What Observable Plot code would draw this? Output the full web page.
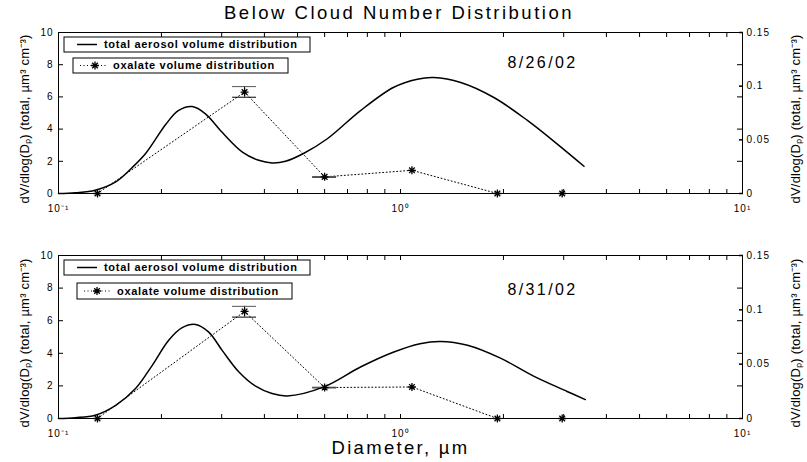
<!DOCTYPE html>
<html><head><meta charset="utf-8">
<script src="https://cdn.jsdelivr.net/npm/d3@7"></script>
<script src="https://cdn.jsdelivr.net/npm/@observablehq/plot@0.6"></script>
<style>
body{margin:0;background:#fff;font-family:"Liberation Sans",Arial,Helvetica,sans-serif;}
#wrap{position:relative;width:807px;height:462px;padding-top:24px;box-sizing:border-box;overflow:hidden;}
#title{position:absolute;top:2px;left:0;width:798px;text-align:center;font-size:18.5px;letter-spacing:2.5px;color:#000;}
svg{display:block}
g[aria-label$="tick label"] text{letter-spacing:1px;}
</style></head><body>
<div id="wrap"><div id="title">Below Cloud Number Distribution</div></div>
<script>
// ---- data ----
const TITLE = "Below Cloud Number Distribution";
const DATES = ["8/26/02", "8/31/02"];
const LEGEND_LABELS = ["total aerosol volume distribution", "oxalate volume distribution"];
const Y_LABEL = "dV/dlog(Dₚ) (total, µm³ cm⁻³)";
const X_LABEL = "Diameter, µm";

const TOTAL_D_1 = [0.1, 0.112, 0.128, 0.147, 0.164, 0.180, 0.206, 0.224, 0.246, 0.269, 0.301, 0.345, 0.385, 0.421, 0.461, 0.522, 0.611, 0.764, 0.956, 1.12, 1.25, 1.50, 1.87, 2.35, 2.94, 3.44];
const TOTAL_V_1 = [0.0, 0.05, 0.2, 0.72, 1.6, 2.5, 4.3, 5.15, 5.4, 4.95, 3.8, 2.57, 2.06, 1.9, 2.0, 2.5, 3.4, 5.15, 6.6, 7.1, 7.2, 6.9, 5.98, 4.54, 2.9, 1.69];
const TOTAL_D_2 = [0.1, 0.112, 0.128, 0.147, 0.168, 0.188, 0.210, 0.230, 0.2516, 0.275, 0.301, 0.337, 0.377, 0.421, 0.466, 0.597, 0.764, 0.956, 1.14, 1.31, 1.57, 1.96, 2.45, 3.07, 3.47];
const TOTAL_V_2 = [0.0, 0.05, 0.2, 0.81, 1.84, 3.26, 4.8, 5.57, 5.77, 5.3, 4.18, 2.85, 1.98, 1.53, 1.38, 1.94, 3.16, 4.08, 4.59, 4.73, 4.49, 3.7, 2.6, 1.66, 1.16];

const OX_D = [0.13, 0.35, 0.6, 1.08, 1.92, 2.97];
const OX_V_1 = [0, 0.0945, 0.0155, 0.0216, 0, 0];
const OX_LO_1 = [null, 0.0897, 0.0152, null, null, null];
const OX_HI_1 = [null, 0.0996, 0.0158, null, null, null];
const OX_V_2 = [0, 0.0985, 0.0285, 0.029, 0, 0];
const OX_LO_2 = [null, 0.0933, 0.0282, null, null, null];
const OX_HI_2 = [null, 0.1032, 0.0288, null, null, null];

const X_TICKS = [0.1, 1, 10];
const X_MINOR = [0.2, 0.3, 0.4, 0.5, 0.6, 0.7, 0.8, 0.9, 2, 3, 4, 5, 6, 7, 8, 9];
const Y_LEFT_TICKS = [0, 2, 4, 6, 8, 10];
const Y_RIGHT_TICKS = [0, 0.05, 0.1, 0.15];

// ---- helpers ----
const K = 10 / 0.15;      // right-axis units -> left-axis units
const CAP = 1.084;        // error-bar cap half width (multiplicative, log axis)
const SUP = {"-1": "10⁻¹", "0": "10⁰", "1": "10¹"};
const supFmt = d => SUP[String(Math.round(Math.log10(d)))];
const rFmt = v => String(+(v / K).toFixed(2));

const STAR = {
  draw(ctx, size) {
    const r = Math.sqrt(size / Math.PI);
    for (let i = 0; i < 4; i++) {
      const a = i * Math.PI / 4;
      ctx.moveTo(r * Math.cos(a), r * Math.sin(a));
      ctx.lineTo(-r * Math.cos(a), -r * Math.sin(a));
    }
  }
};

const FONT = '"Liberation Sans", Arial, Helvetica, sans-serif';

function panel(cfg) {
  const total = cfg.td.map((D, i) => ({D, v: cfg.tv[i]}));
  const ox = OX_D.map((D, i) => ({D, v: cfg.ov[i], lo: cfg.lo[i], hi: cfg.hi[i]}));
  const errs = ox.filter(d => d.lo != null);
  const marks = [
    Plot.frame({stroke: "black", strokeWidth: 1}),
    Plot.axisX(X_TICKS, {anchor: "bottom", tickSize: 0, tickPadding: 11, tickFormat: supFmt, fontSize: 10, label: null}),
    Plot.axisX(X_TICKS.concat(X_MINOR), {anchor: "bottom", tickSize: -4, fill: "none", label: null}),
    Plot.axisX(X_TICKS.concat(X_MINOR), {anchor: "top", tickSize: -4, fill: "none", label: null}),
    Plot.axisY(Y_LEFT_TICKS, {anchor: "left", tickSize: 0, tickPadding: 5, fontSize: 10, label: null}),
    Plot.axisY(Y_LEFT_TICKS, {anchor: "left", tickSize: -5, fill: "none", label: null}),
    Plot.axisY(Y_LEFT_TICKS, {anchor: "right", tickSize: -6, fill: "none", label: null}),
    Plot.axisY(Y_RIGHT_TICKS.map(v => v * K), {anchor: "right", tickSize: 0, tickPadding: 4, tickFormat: rFmt, fontSize: 10, label: null}),
    Plot.axisY(Y_RIGHT_TICKS.map(v => v * K), {anchor: "right", tickSize: -4, strokeWidth: 1.5, fill: "none", label: null}),
    Plot.line(total, {x: "D", y: "v", curve: "catmull-rom", stroke: "black", strokeWidth: 1.5}),
    Plot.line(ox, {x: "D", y: d => d.v * K, stroke: "black", strokeWidth: 1, strokeDasharray: "1,2.5"}),
    Plot.ruleX(errs, {x: "D", y1: d => d.lo * K, y2: d => d.hi * K, stroke: "black", strokeWidth: 1}),
    Plot.ruleY(errs, {x1: d => d.D / CAP, x2: d => d.D * CAP, y: d => d.lo * K, stroke: "black", strokeWidth: 1}),
    Plot.ruleY(errs, {x1: d => d.D / CAP, x2: d => d.D * CAP, y: d => d.hi * K, stroke: "#555", strokeWidth: 1}),
    Plot.dot(ox, {x: "D", y: d => d.v * K, symbol: STAR, r: 4, stroke: "black", strokeWidth: 1.3, fill: "none"}),
    Plot.text([cfg.date], {text: d => d, frameAnchor: "top-right", dx: -200, dy: cfg.dateDy, textAnchor: "middle", lineAnchor: "middle", fontSize: 16}),
    Plot.text([Y_LABEL], {text: d => d, frameAnchor: "left", rotate: -90, dx: -34, dy: 6, textAnchor: "middle", lineAnchor: "middle", fontSize: 13}),
    Plot.text([Y_LABEL], {text: d => d, frameAnchor: "right", rotate: -90, dx: 53, dy: 6, textAnchor: "middle", lineAnchor: "middle", fontSize: 13})
  ];
  if (cfg.xlabel) marks.push(Plot.text([X_LABEL], {text: d => d, frameAnchor: "bottom", dy: 30, textAnchor: "middle", lineAnchor: "middle", fontSize: 18.5}));
  const chart = Plot.plot({
    width: 807, height: cfg.height,
    marginLeft: 58, marginRight: 65, marginTop: cfg.mt, marginBottom: cfg.mb,
    x: {type: "log", domain: [0.1, 10]},
    y: {domain: [0, 10]},
    style: {fontFamily: FONT, color: "black", background: "white", overflow: "visible"},
    marks
  });
  const svg = d3.select(chart);
  // wide letter spacing like the reference's printed fonts
  const spacing = {[cfg.date]: "2.4px", [Y_LABEL]: "0.2px", [X_LABEL]: "2.3px"};
  svg.selectAll("text").each(function () {
    const s = spacing[this.textContent];
    if (s) this.style.letterSpacing = s;
  });
  // legend boxes
  const lg = svg.append("g").attr("font-family", FONT).attr("font-size", 11).attr("font-weight", "bold")
    .attr("text-anchor", "start").style("letter-spacing", "0.7px");
  cfg.legend.forEach((b, i) => {
    const y0 = cfg.mt + b.dy;
    lg.append("rect").attr("x", b.x).attr("y", y0).attr("width", b.w).attr("height", b.h)
      .attr("fill", "white").attr("stroke", "black").attr("stroke-width", 1);
    const cy = y0 + b.h / 2;
    const ln = lg.append("line").attr("x1", b.l1).attr("x2", b.l2).attr("y1", cy).attr("y2", cy)
      .attr("stroke", "black").attr("stroke-width", i === 0 ? 1.5 : 1);
    if (i === 1) {
      ln.attr("stroke-dasharray", "1,2.5");
      lg.append("path").attr("d", d3.symbol(STAR, 16 * Math.PI)()).attr("transform", `translate(${b.s},${cy})`)
        .attr("stroke", "black").attr("stroke-width", 1.3).attr("fill", "none");
    }
    lg.append("text").attr("x", b.t).attr("y", cy).attr("dy", "0.35em").attr("text-anchor", "start").text(LEGEND_LABELS[i]);
  });
  return chart;
}

const wrap = document.getElementById("wrap");
wrap.appendChild(panel({
  td: TOTAL_D_1, tv: TOTAL_V_1, ov: OX_V_1, lo: OX_LO_1, hi: OX_HI_1, date: DATES[0], dateDy: 30,
  height: 206, mt: 8, mb: 37, xlabel: false,
  legend: [
    {x: 64, w: 246, dy: 5, h: 15, l1: 77, l2: 97, t: 104},
    {x: 73, w: 215, dy: 26, h: 15, l1: 80, l2: 108, s: 95, t: 113}
  ]
}));
wrap.appendChild(panel({
  td: TOTAL_D_2, tv: TOTAL_V_2, ov: OX_V_2, lo: OX_LO_2, hi: OX_HI_2, date: DATES[1], dateDy: 34,
  height: 232, mt: 25, mb: 44, xlabel: true,
  legend: [
    {x: 64, w: 246, dy: 5, h: 15, l1: 77, l2: 97, t: 104},
    {x: 77, w: 215, dy: 28, h: 16, l1: 84, l2: 112, s: 97, t: 117}
  ]
}));
</script></body></html>
